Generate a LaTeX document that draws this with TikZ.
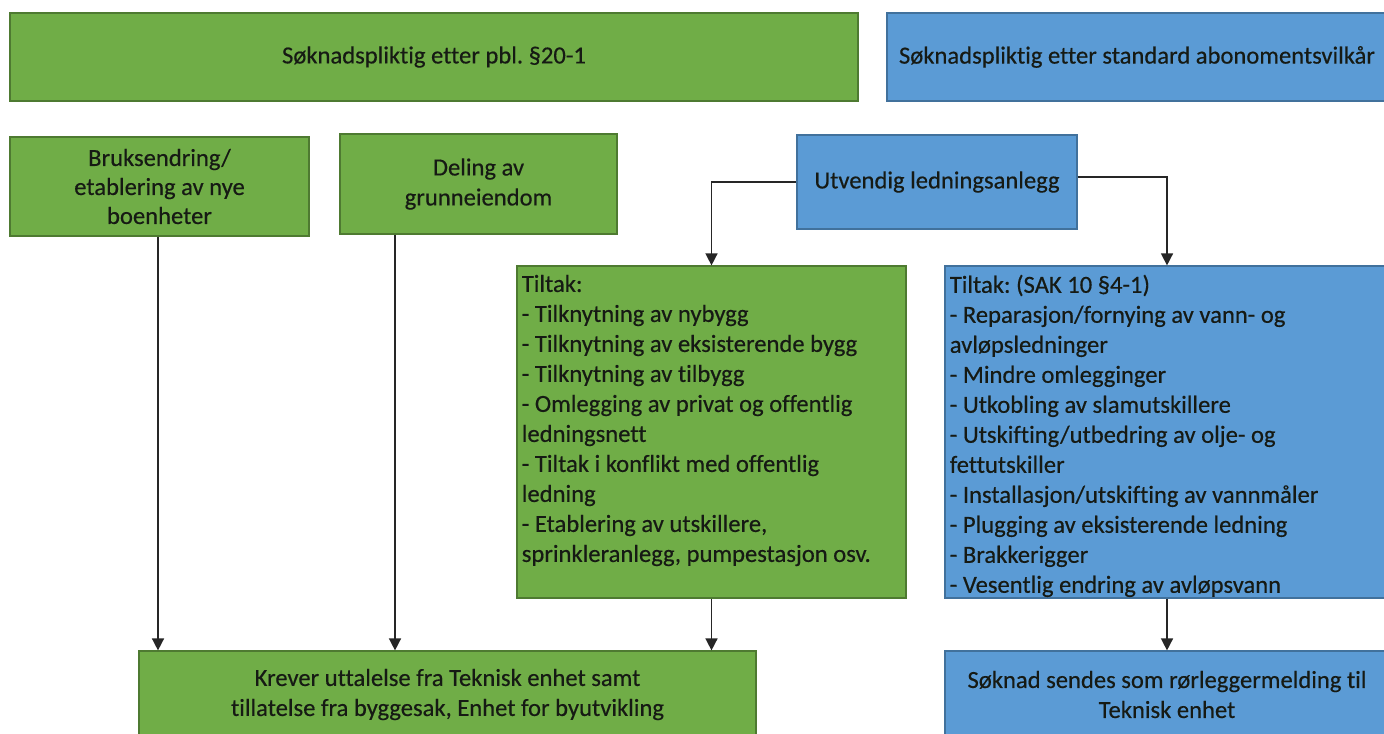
\documentclass[tikz,border=0pt]{standalone}
\usepackage{fontspec}
\setmainfont{Carlito}[Ligatures=NoCommon, FakeBold=0.4]
\frenchspacing
\usetikzlibrary{arrows.meta}
\definecolor{gfill}{HTML}{70AD47}
\definecolor{bfill}{HTML}{5B9BD5}
\definecolor{gline}{HTML}{4E7A31}
\definecolor{bline}{HTML}{41719C}
\definecolor{ink}{HTML}{161A14}
\tikzset{
  gbox/.style={draw=gline, fill=gfill, line width=0.6pt, rectangle, inner sep=0pt,
    text=ink, align=center, font=\fontsize{12.3}{15}\selectfont},
  bbox/.style={gbox, draw=bline, fill=bfill},
  listtext/.style={anchor=north west, inner sep=0pt, align=left, text=ink,
    font=\fontsize{12.3}{15}\selectfont},
  arr/.style={draw=black!85, line width=0.75pt, -{Triangle[length=6pt,width=6pt]}}
}
\begin{document}
\begin{tikzpicture}[x=0.5pt, y=-0.5pt]
\clip (0,0) rectangle (1384,733);
\fill[white] (0,0) rectangle (1384,733);

% header row
\node[gbox, minimum width=424pt, minimum height=44pt] (pbl) at (434,57)
  {Søknadspliktig etter pbl. §20-1};
\node[bbox, minimum width=250pt, minimum height=44pt] (abo) at (1137,57)
  {Søknadspliktig etter standard abonomentsvilkår};

% second row
\node[gbox, minimum width=149.5pt, minimum height=49.5pt,
  font=\fontsize{12.3}{14.5}\selectfont] (bruk) at (159.5,186.5)
  {Bruksendring/\\etablering av nye\\boenheter};
\node[gbox, minimum width=138.5pt, minimum height=50pt] (del) at (478.5,184)
  {Deling av\\grunneiendom};
\node[bbox, minimum width=140pt, minimum height=47pt] (ut) at (937,182)
  {Utvendig ledningsanlegg};

% measures
\node[gbox, minimum width=194.5pt, minimum height=166pt] (tg) at (711.5,432) {};
\node[listtext] (tgtext) at ([xshift=2.5pt,yshift=-4.5pt]tg.north west)
  {Tiltak:\\
   - Tilknytning av nybygg\\
   - Tilknytning av eksisterende bygg\\
   - Tilknytning av tilbygg\\
   - Omlegging av privat og offentlig\\
   ledningsnett\\
   - Tiltak i konflikt med offentlig\\
   ledning\\
   - Etablering av utskillere,\\
   sprinkleranlegg, pumpestasjon osv.};
\node[bbox, minimum width=222pt, minimum height=166pt] (tb) at (1167,432) {};
\node[listtext] (tbtext) at ([xshift=2.5pt,yshift=-4.5pt]tb.north west)
  {Tiltak: (SAK 10 §4-1)\\
   - Reparasjon/fornying av vann- og\\
   avløpsledninger\\
   - Mindre omlegginger\\
   - Utkobling av slamutskillere\\
   - Utskifting/utbedring av olje- og\\
   fettutskiller\\
   - Installasjon/utskifting av vannmåler\\
   - Plugging av eksisterende ledning\\
   - Brakkerigger\\
   - Vesentlig endring av avløpsvann};

% outcomes
\node[gbox, minimum width=308.5pt, minimum height=43.5pt] (kre) at (447.5,694.5)
  {Krever uttalelse fra Teknisk enhet samt\\tillatelse fra byggesak, Enhet for byutvikling};
\node[bbox, minimum width=222pt, minimum height=43.5pt] (ror) at (1167,694.5)
  {Søknad sendes som rørleggermelding til\\Teknisk enhet};

% connectors
\coordinate (bx) at (158,0);
\coordinate (dx) at (395,0);
\draw[arr] (bruk.south -| bx) -- (kre.north -| bx);
\draw[arr] (del.south -| dx) -- (kre.north -| dx);
\draw[arr] (tg.south) -- (tg.south |- kre.north);
\draw[arr] (tb.south) -- (ror.north);
\draw[arr] (ut.west) -| (tg.north);
\draw[arr] ([yshift=2.5pt]ut.east) -| (tb.north);
\end{tikzpicture}
\end{document}
